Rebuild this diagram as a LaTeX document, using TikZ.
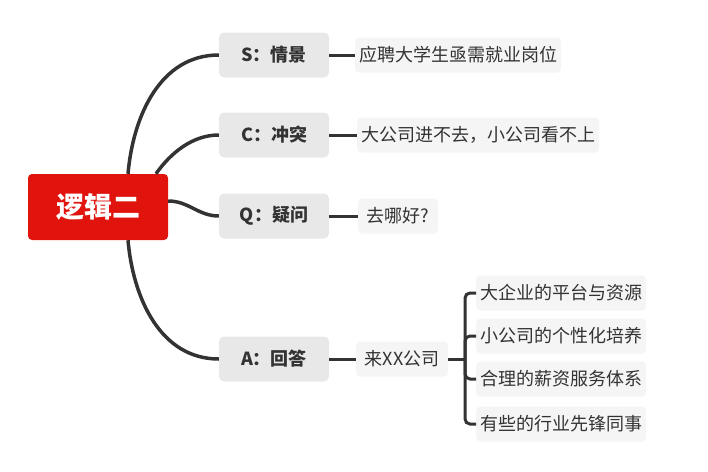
\documentclass[tikz,border=0pt]{standalone}
\usepackage{fontspec}
\setmainfont{Noto Sans CJK SC}
\usepackage{xcolor}
\usetikzlibrary{positioning}
\definecolor{rootred}{HTML}{E0140C}
\definecolor{topicgray}{HTML}{E8E8E8}
\definecolor{leafgray}{HTML}{F5F5F5}
\definecolor{linegray}{HTML}{333333}

\begin{document}
\begin{tikzpicture}[x=1pt,y=-1pt]
\tikzset{
  rootbox/.style={fill=rootred,text=white,rounded corners=4pt,minimum width=140pt,minimum height=66pt,font=\fontsize{28}{30}\selectfont\bfseries},
  topicbox/.style={fill=topicgray,text=linegray,rounded corners=5pt,minimum width=110pt,minimum height=45pt,font=\fontsize{18}{20}\selectfont\bfseries},
  leafbox/.style={fill=leafgray,text=linegray,rounded corners=4pt,minimum height=35pt,inner xsep=4pt,anchor=west,font=\fontsize{18}{20}\selectfont},
  branch/.style={draw=linegray,line width=3.5pt},
  twig/.style={draw=linegray,line width=3pt}
}
\useasboundingbox (0,0) rectangle (708,471);

% centre and the four topics
\node[rootbox] (root) at (98,207) {逻辑二};
\node[topicbox] (s) at (274,55) {S：情景};
\node[topicbox] (c) at (274,135) {C：冲突};
\node[topicbox] (q) at (274,216) {Q：疑问};
\node[topicbox] (a) at (274,359) {A：回答};

% leaves
\node[leafbox] (sleaf) at (355,55) {应聘大学生亟需就业岗位};
\node[leafbox] (cleaf) at (357,135) {大公司进不去，小公司看不上};
\node[leafbox,minimum width=80pt] (qleaf) at (358,216) {去哪好?};
\node[leafbox,minimum width=92pt] (aleaf) at (356,359) {来XX公司};
\node[leafbox] (a1) at (476,293) {大企业的平台与资源};
\node[leafbox] (a2) at (476,336) {小公司的个性化培养};
\node[leafbox] (a3) at (476,379) {合理的薪资服务体系};
\node[leafbox] (a4) at (476,424) {有些的行业先锋同事};

% branches
\draw[branch] ([xshift=30pt]root.north) to[out=85,in=180] (s.west);
\draw[branch] ([xshift=58pt]root.north) to[out=55,in=180,looseness=0.9] (c.west);
\draw[branch] ([yshift=6pt]root.east) to[out=0,in=180] (q.west);
\draw[branch] ([xshift=30pt]root.south) to[out=-85,in=180] (a.west);

\draw[twig] (s.east) -- (sleaf.west);
\draw[twig] (c.east) -- (cleaf.west);
\draw[twig] (q.east) -- (qleaf.west);
\draw[twig] (a.east) -- (aleaf.west);

% bracket
\coordinate (fork) at (465,359);
\draw[twig] (aleaf.east) -- (fork);
\foreach \sub in {a1,a2,a3,a4}
  \draw[twig,rounded corners=5pt] (fork) |- (\sub.west);
\end{tikzpicture}
\end{document}
